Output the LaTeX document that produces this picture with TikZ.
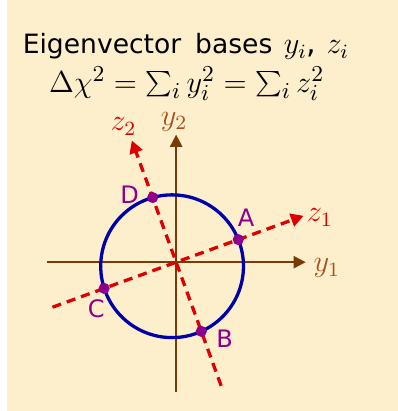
\documentclass[tikz,border=0pt]{standalone}
\usepackage{fontspec}
\setsansfont{DejaVu Sans}
\usetikzlibrary{arrows.meta,intersections}

\definecolor{slidebg}{RGB}{253,239,204}
\definecolor{axisbrown}{RGB}{122,58,8}
\definecolor{labbrown}{RGB}{165,82,30}
\definecolor{eigred}{RGB}{222,0,0}
\definecolor{ringblue}{RGB}{0,0,170}
\definecolor{ptpurple}{RGB}{140,0,140}

\begin{document}
\begin{tikzpicture}[x=0.4pt,y=0.4pt,
		axis/.style={draw=axisbrown,line width=0.8pt,-{Triangle[length=4.8pt,width=4.8pt]}},
		eigen/.style={draw=eigred,line width=1.3pt,dash pattern=on 3.6pt off 2.4pt,-{Triangle[length=5pt,width=5.2pt]}},
		axlabel/.style={text=labbrown,font=\fontsize{12}{12}\selectfont},
		zlabel/.style={text=eigred,font=\fontsize{12}{12}\selectfont},
		ptdot/.style={circle,fill=ptpurple,inner sep=0pt,minimum size=4.4pt},
		ptlabel/.style={text=ptpurple,font=\sffamily\fontsize{9.5}{9.5}\selectfont}]
		\useasboundingbox (-174,-147) rectangle (219,259);
		\fill[slidebg] (-167,-147) rectangle (219,259);
		% title
		\node[anchor=base west,inner sep=0pt,font=\sffamily\fontsize{10.5}{12}\selectfont] (title) at (-152,206)
			{Eigenvector\hspace{5.5pt}bases\hspace{4.5pt}{\fontsize{12}{12}\selectfont$y_i$,\hspace{4pt}$z_i$}};
		\node[anchor=base west,inner sep=0pt,font=\fontsize{12.3}{14}\selectfont] (chisq) at (-126,168) {$\Delta\chi^2=\sum_i y_i^2=\sum_i z_i^2$};
		% axes
		\coordinate (O) at (0,0);
		\coordinate (y1w) at (-128,0);
		\coordinate (y1e) at (128,0);
		\coordinate (y2s) at (0,-128);
		\coordinate (y2n) at (0,126);
		\draw[axis] (y1w) -- (y1e);
		\draw[axis] (y2s) -- (y2n);
		\node[axlabel] (y1lab) at (149,-6) {$y_1$};
		\node[axlabel] (y2lab) at (-2,139) {$y_2$};
		% error ellipse (circle here)
		\coordinate (ctr) at (-4,-4);
		\draw[ringblue,line width=1.3pt,name path=ring] (ctr) circle[radius=70.5];
		% rotated eigenvector axes
		\coordinate (z1w) at (200:130);
		\coordinate (z1e) at (20:134);
		\coordinate (z2s) at (290:130);
		\coordinate (z2n) at (110:128);
		\draw[eigen,name path=zone] (z1w) -- (z1e);
		\draw[eigen,name path=ztwo] (z2s) -- (z2n);
		\node[zlabel] (z1lab) at (142,44) {$z_1$};
		\node[zlabel] (z2lab) at (-52,134) {$z_2$};
		\path[name intersections={of=zone and ring,sort by=zone}]
			(intersection-1) coordinate (c) (intersection-2) coordinate (a);
		\path[name intersections={of=ztwo and ring,sort by=ztwo}]
			(intersection-1) coordinate (b) (intersection-2) coordinate (d);
		\foreach \p in {a,b,c,d}
			\node[ptdot] (\p dot) at (\p) {};
		\node[ptlabel] (alab) at (69,44) {A};
		\node[ptlabel] (blab) at (48,-76) {B};
		\node[ptlabel] (clab) at (-79,-46) {C};
		\node[ptlabel] (dlab) at (-46,67) {D};
	\end{tikzpicture}
\end{document}
